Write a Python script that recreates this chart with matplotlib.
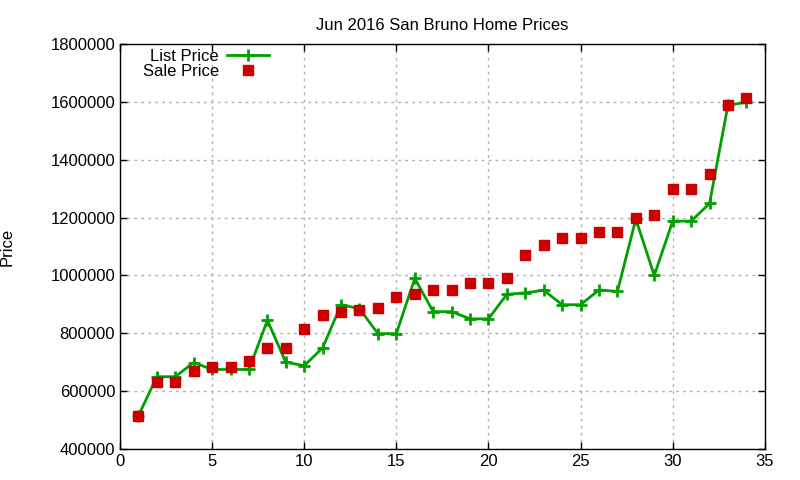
import matplotlib
matplotlib.use('Agg')
import matplotlib.pyplot as plt

plt.rcParams['font.family'] = ['Liberation Sans', 'DejaVu Sans']

# data
homes = list(range(1, 35))
list_price = [515000, 650000, 650000, 699000, 675000, 675000, 675000, 845000, 700000, 688000,
              750000, 899000, 885000, 799000, 799000, 990000, 875000, 875000, 850000, 850000,
              935000, 940000, 949000, 899000, 899000, 950000, 945000, 1195000, 1000000, 1188000,
              1188000, 1249000, 1589000, 1599000]
sale_price = [515000, 630000, 630000, 670000, 685000, 685000, 705000, 750000, 750000, 815000,
              865000, 875000, 880000, 888000, 925000, 937000, 950000, 950000, 975000, 975000,
              990000, 1070000, 1105000, 1130000, 1130000, 1150000, 1152000, 1200000, 1210000, 1300000,
              1300000, 1350000, 1590000, 1615000]
xticks = [0, 5, 10, 15, 20, 25, 30, 35]
yticks = [400000, 600000, 800000, 1000000, 1200000, 1400000, 1600000, 1800000]

fig = plt.figure(figsize=(8, 4.8), dpi=100)
ax = fig.add_axes([0.15, 0.0646, 0.806, 0.8434])

ax.plot(homes, list_price, color='#00a000', lw=2, marker='+', ms=9, mew=2, label='List Price')
ax.plot(homes, sale_price, ls='none', color='#cc0000', marker='s', ms=7, label='Sale Price')

ax.set_xlim(0, 35)
ax.set_ylim(400000, 1800000)
ax.set_xticks(xticks)
ax.set_yticks(yticks)
ax.set_xticklabels([str(t) for t in xticks])
ax.set_yticklabels([str(t) for t in yticks])
ax.tick_params(direction='in', top=True, right=True, labelsize=12, length=5, width=1)
ax.grid(True, color='#b0b0b0', ls=(0, (2, 3)), lw=1)
for s in ax.spines.values():
    s.set_linewidth(1)

ax.set_title('Jun 2016 San Bruno Home Prices', fontsize=12, pad=10)
ax.set_ylabel('Price', fontsize=12, labelpad=26)

ax.legend(loc='upper left', bbox_to_anchor=(0.02, 1.012), frameon=False, markerfirst=False,
          fontsize=12, handlelength=2.5, handletextpad=0.48, labelspacing=0.0, borderaxespad=0.2)

fig.savefig('out.png', dpi=100)
